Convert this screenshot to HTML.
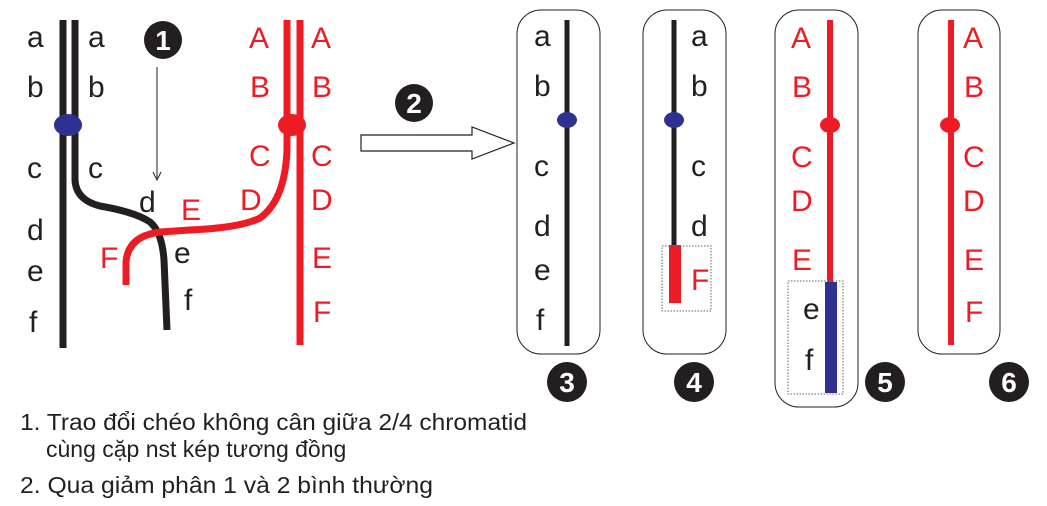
<!DOCTYPE html>
<html><head><meta charset="utf-8"><style>
html,body{margin:0;padding:0;background:#fff;}
svg{display:block;}
text{font-family:"Liberation Sans",Arial,sans-serif;}
</style></head><body>
<svg width="1047" height="506" viewBox="0 0 1047 506" xmlns="http://www.w3.org/2000/svg">
<g fill="none" stroke-linecap="butt">
<line x1="63" y1="20" x2="63" y2="348" stroke="#231f20" stroke-width="7"/>
<path d="M75 20 L75 180 Q76 200 100 206 Q135 212 150 222 Q162 232 164 260 L167 330" stroke="#231f20" stroke-width="7"/>
<line x1="300" y1="20" x2="300" y2="345" stroke="#ed1c24" stroke-width="7"/>
<path d="M287 20 L287 150 Q285 200 260 218 Q240 228 190 230 L160 232 Q128 236 126 262 L126 285" stroke="#ed1c24" stroke-width="7"/>
</g>
<ellipse cx="68" cy="125" rx="14" ry="11" fill="#2e3192"/>
<ellipse cx="292" cy="125" rx="14" ry="11" fill="#ed1c24"/>
<line x1="157" y1="67" x2="157" y2="178" stroke="#231f20" stroke-width="1"/>
<path d="M153 172 L157 180 L161 172" stroke="#231f20" fill="none" stroke-width="1"/>
<g font-size="30" fill="#231f20">
<text x="27" y="47">a</text><text x="27" y="97">b</text><text x="27" y="178">c</text><text x="27" y="240">d</text><text x="27" y="281">e</text><text x="29" y="332">f</text>
<text x="88" y="47">a</text><text x="88" y="97">b</text><text x="88" y="178">c</text><text x="139" y="212">d</text><text x="174" y="263">e</text><text x="184" y="310">f</text>
</g>
<g font-size="30" fill="#ed1c24">
<text x="249" y="48">A</text><text x="250" y="97">B</text><text x="249" y="166">C</text><text x="240" y="210">D</text><text x="181" y="220">E</text><text x="100" y="268">F</text>
<text x="311" y="48">A</text><text x="312" y="97">B</text><text x="311" y="166">C</text><text x="311" y="210">D</text><text x="312" y="268">E</text><text x="313" y="322">F</text>
</g>
<g font-family="Liberation Sans" font-weight="bold" fill="#fff" text-anchor="middle" font-size="28">
<circle cx="163" cy="40" r="19" fill="#231f20"/>
<text x="163" y="50">1</text>
<circle cx="414" cy="103" r="19" fill="#231f20"/>
<text x="414" y="113">2</text>
<circle cx="567" cy="382" r="20" fill="#231f20"/>
<text x="567" y="392">3</text>
<circle cx="694" cy="382" r="20" fill="#231f20"/>
<text x="694" y="392">4</text>
<circle cx="885" cy="382" r="20" fill="#231f20"/>
<text x="885" y="392">5</text>
<circle cx="1009" cy="382" r="20" fill="#231f20"/>
<text x="1009" y="392">6</text>
</g>
<path d="M361 135 L472 135 L472 127 L514 143 L472 159 L472 151 L361 151 Z" fill="#fff" stroke="#231f20" stroke-width="1.2"/>
<g fill="none" stroke="#231f20" stroke-width="1">
<rect x="517" y="10" width="83" height="344" rx="24"/>
<rect x="643" y="10" width="83" height="344" rx="24"/>
<rect x="775" y="10" width="83" height="397" rx="24"/>
<rect x="918" y="10" width="82" height="344" rx="24"/>
</g>
<line x1="567" y1="20" x2="567" y2="346" stroke="#231f20" stroke-width="5"/>
<ellipse cx="567" cy="120" rx="10" ry="8" fill="#2e3192"/>
<g font-size="30" fill="#231f20">
<text x="534" y="46">a</text><text x="534" y="96">b</text><text x="534" y="176">c</text><text x="534" y="236">d</text><text x="534" y="280">e</text><text x="536" y="330">f</text>
<text x="691" y="46">a</text><text x="691" y="96">b</text><text x="691" y="176">c</text><text x="691" y="236">d</text>
<text x="803" y="319">e</text><text x="805" y="370">f</text>
</g>
<line x1="674" y1="20" x2="674" y2="246" stroke="#231f20" stroke-width="5"/>
<ellipse cx="674" cy="120" rx="10" ry="8" fill="#2e3192"/>
<rect x="669" y="245" width="12" height="58" fill="#ed1c24"/>
<rect x="662" y="246" width="49" height="65" fill="none" stroke="#666" stroke-width="1" stroke-dasharray="1.5,1.5"/>
<text x="691" y="290" font-size="30" fill="#ed1c24">F</text>
<line x1="830" y1="20" x2="830" y2="283" stroke="#ed1c24" stroke-width="6"/>
<ellipse cx="830" cy="125" rx="10" ry="8" fill="#ed1c24"/>
<rect x="825" y="282" width="12" height="111" fill="#2e3192"/>
<rect x="788" y="281" width="55" height="113" fill="none" stroke="#666" stroke-width="1" stroke-dasharray="1.5,1.5"/>
<g font-size="30" fill="#ed1c24">
<text x="791" y="48">A</text><text x="792" y="97">B</text><text x="791" y="167">C</text><text x="791" y="211">D</text><text x="792" y="270">E</text>
<text x="963" y="48">A</text><text x="964" y="97">B</text><text x="963" y="167">C</text><text x="963" y="211">D</text><text x="964" y="270">E</text><text x="965" y="322">F</text>
</g>
<line x1="951" y1="20" x2="951" y2="345" stroke="#ed1c24" stroke-width="6"/>
<ellipse cx="950" cy="125" rx="10" ry="8" fill="#ed1c24"/>
<g font-size="23" fill="#231f20">
<text x="20" y="430" textLength="507" lengthAdjust="spacingAndGlyphs">1. Trao đổi chéo không cân giữa 2/4 chromatid</text>
<text x="46" y="457">cùng cặp nst kép tương đồng</text>
<text x="20" y="493" textLength="413" lengthAdjust="spacingAndGlyphs">2. Qua giảm phân 1 và 2 bình thường</text>
</g>
</svg>
</body></html>
